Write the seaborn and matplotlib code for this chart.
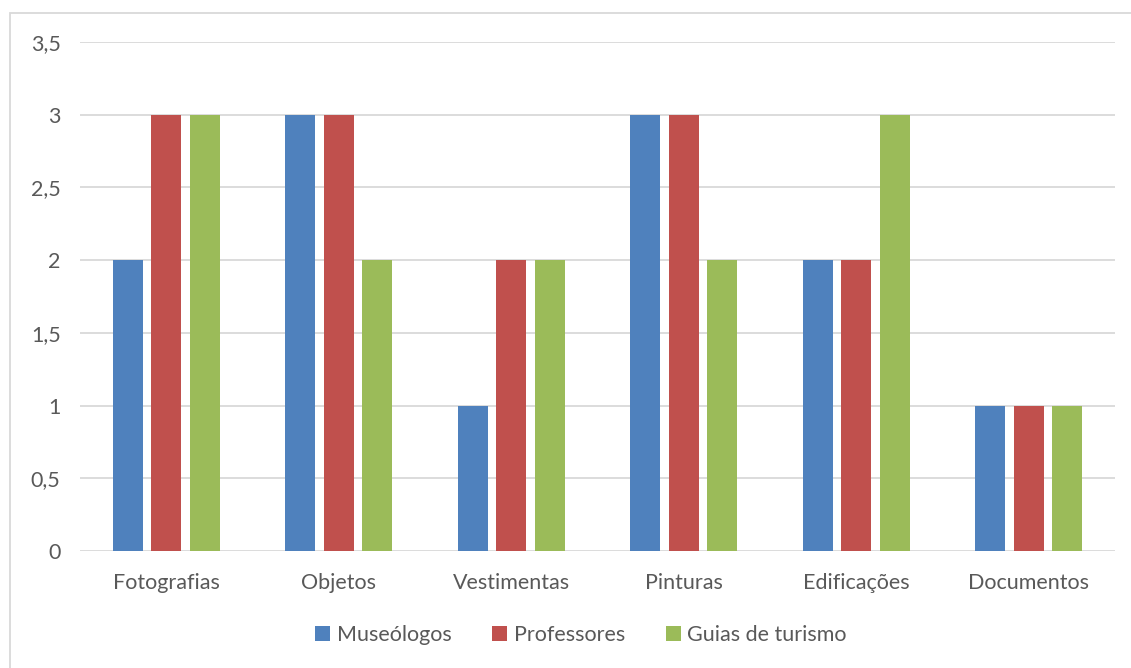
import matplotlib
matplotlib.use("Agg")
import matplotlib.pyplot as plt
import seaborn as sns
import pandas as pd
from matplotlib.patches import Rectangle

categories = ["Fotografias", "Objetos", "Vestimentas", "Pinturas", "Edificações", "Documentos"]
series_names = ["Museólogos", "Professores", "Guias de turismo"]
museologos = [2, 3, 1, 3, 2, 1]
professores = [3, 3, 2, 3, 2, 1]
guias = [3, 2, 2, 2, 3, 1]
ytick_values = [0, 0.5, 1, 1.5, 2, 2.5, 3, 3.5]
ytick_labels = ["0", "0,5", "1", "1,5", "2", "2,5", "3", "3,5"]
colors = ["#4F81BD", "#C0504D", "#9BBB59"]

rows = []
for name, vals in zip(series_names, [museologos, professores, guias]):
    for c, v in zip(categories, vals):
        rows.append({"Categoria": c, "Série": name, "Valor": v})
df = pd.DataFrame(rows)

sns.set_style("white")
plt.rcParams["font.family"] = ["Lato", "DejaVu Sans"]

fig = plt.figure(figsize=(11.31, 6.68), dpi=100)
ax = fig.add_axes([80/1131, 1-551/668, (1115-80)/1131, (551-42)/668])

sns.barplot(data=df, x="Categoria", y="Valor", hue="Série", palette=colors,
            width=0.67, gap=0.22, ax=ax, saturation=1, errorbar=None,
            order=categories, hue_order=series_names, zorder=3, linewidth=0)

ax.set_ylim(0, 3.5)
ax.set_xlim(-0.5, len(categories) - 0.5)
ax.set_yticks(ytick_values)
ax.set_yticklabels(ytick_labels)
ax.yaxis.grid(True, color="#D9D9D9", linewidth=1.3, zorder=0)
ax.set_axisbelow(True)
for s in ax.spines.values():
    s.set_visible(False)
ax.tick_params(axis="both", length=0, colors="#595959", labelsize=15.5)
ax.tick_params(axis="y", pad=14)
ax.tick_params(axis="x", pad=16)
ax.set_xlabel("")
ax.set_ylabel("")

handles, labels = ax.get_legend_handles_labels()
ax.get_legend().remove()
fig.legend(handles, labels, loc="center", bbox_to_anchor=(581/1131, 1-635/668),
           ncol=3, frameon=False, fontsize=15.5, handlelength=0.7, handleheight=0.7,
           handletextpad=0.3, columnspacing=1.9, labelcolor="#595959")

fig.patches.append(Rectangle((10/1131, -0.1), 1.2, 0.1 + 1-13/668,
                             transform=fig.transFigure, fill=False,
                             edgecolor="#D9D9D9", linewidth=1.3, figure=fig))

fig.savefig("out.png", dpi=100)
